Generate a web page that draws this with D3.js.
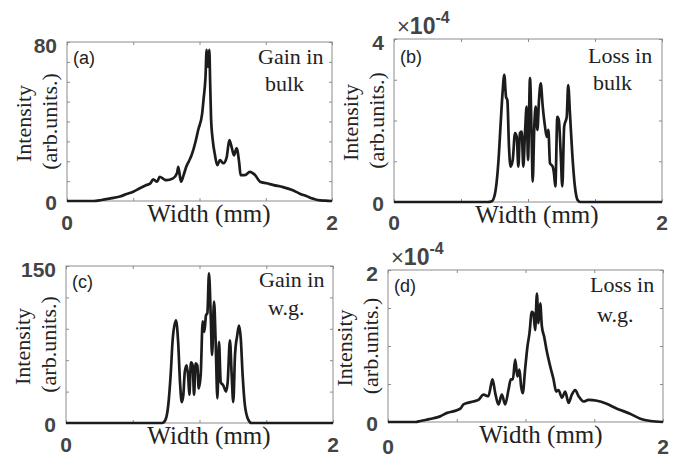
<!DOCTYPE html>
<html><head><meta charset="utf-8">
<script src="https://cdn.jsdelivr.net/npm/d3@7"></script>
<style>
html,body{margin:0;padding:0;background:#fff;}
svg{display:block;}
.tick line{stroke:#8c8c8c;}
</style></head>
<body>
<svg id="chart" width="680" height="459"></svg>
<script>
// ---- data (x in mm, intensity in arb. units; panels b,d in units of 1e-4) ----
const xA = [0,0.1,0.2,0.26,0.32,0.4,0.45,0.5,0.55,0.6,0.63,0.65,0.68,0.70,0.73,0.75,0.80,0.83,0.84,0.86,0.88,0.90,0.92,0.94,0.97,0.99,1.02,1.03,1.045,1.054,1.064,1.074,1.08,1.087,1.10,1.117,1.134,1.155,1.18,1.205,1.225,1.243,1.26,1.28,1.30,1.31,1.343,1.38,1.42,1.457,1.507,1.56,1.63,1.70,1.757,1.81,1.857,1.91,1.95,2.0];
const yA = [0,0,0,0.5,1.2,2.3,3.5,4.7,6.4,8,8.9,10.9,9.7,12.2,11,10.5,11.4,14,17.2,9.7,13,17.2,20,23,29.8,35.7,44,50.8,62,76,67.5,76,60.8,42,30.6,23,18,20.6,19,22,30.6,27,23,26.5,19,13,13,14.7,13,9.7,8.9,8,7,5.5,3.7,2.4,1.2,0.3,0.2,0];

const xB = [0,0.70,0.73,0.754,0.78,0.796,0.81,0.823,0.836,0.846,0.858,0.87,0.886,0.903,0.916,0.928,0.94,0.953,0.965,0.978,0.99,1.0,1.015,1.028,1.035,1.047,1.057,1.07,1.082,1.095,1.11,1.127,1.14,1.152,1.164,1.184,1.194,1.204,1.219,1.23,1.244,1.256,1.27,1.289,1.30,1.313,1.33,1.35,1.37,1.39,2.0];
const yB = [0,0,0.02,0.21,1.03,1.93,2.67,3.12,2.58,2.5,1.36,0.87,1.03,1.69,1.6,0.87,1.69,1.73,0.87,1.73,2.34,1.03,3.04,1.44,0.5,1.85,2.34,1.77,2.5,2.91,2.34,1.85,1.6,1.77,0.95,0.87,0.7,0.38,2.09,2.01,1.2,0.38,1.85,2.09,2.87,2.18,1.2,0.38,0.05,0,0];

const xC = [0,0.72,0.745,0.766,0.784,0.80,0.824,0.84,0.854,0.867,0.879,0.89,0.904,0.916,0.924,0.936,0.949,0.959,0.971,0.984,0.994,1.009,1.024,1.036,1.049,1.059,1.071,1.084,1.094,1.109,1.121,1.134,1.146,1.159,1.178,1.199,1.211,1.228,1.241,1.253,1.266,1.283,1.296,1.309,1.323,1.34,1.366,1.39,2.0];
const yC = [0,0,3,17,46,81,98,77.5,39,20,27,49,55,43,27,58,55,27,57,55,33,46,97,87,103,105,143,103,65,116,77.5,23.5,77.5,39,36,30,39,79,46,20,65,84,93,81,46,17,3,0,0];

const xD = [0,0.2,0.235,0.28,0.33,0.379,0.43,0.475,0.526,0.548,0.575,0.62,0.657,0.694,0.73,0.76,0.78,0.803,0.828,0.852,0.876,0.893,0.908,0.925,0.941,0.956,0.968,0.98,0.997,1.014,1.029,1.046,1.058,1.07,1.083,1.094,1.107,1.119,1.136,1.155,1.18,1.204,1.223,1.24,1.265,1.289,1.313,1.337,1.361,1.386,1.422,1.458,1.52,1.59,1.665,1.76,1.835,1.91,2.0];
const yD = [0,0,0.013,0.03,0.05,0.074,0.12,0.14,0.175,0.23,0.25,0.27,0.29,0.36,0.34,0.56,0.38,0.23,0.36,0.23,0.42,0.56,0.56,0.82,0.60,0.69,0.47,0.38,0.69,0.99,1.17,1.45,1.43,1.21,1.69,1.30,1.56,1.26,1.12,0.93,0.73,0.56,0.40,0.42,0.32,0.40,0.25,0.36,0.42,0.34,0.27,0.29,0.28,0.24,0.175,0.11,0.044,0.013,0];

const panelTags = ["(a)","(b)","(c)","(d)"];
const panelNotes = [["Gain in","bulk"],["Loss in","bulk"],["Gain in","w.g."],["Loss in","w.g."]];
const yMaxes = [80,4,150,2];
const yTickSteps = [10,1,30,0.5];
const yMaxLabels = ["80","4","150","2"];
const xTickVals = [0,0.5,1,1.5,2];
const xTickLabels = ["0","2"];
const hasExponent = [false,true,false,true];
const xTitle = "Width (mm)";
const yTitle = ["Intensity","(arb.units.)"];

// ---- layout ----
const layout = [
  {l:67, r:332, t:42, b:201, xl:209, xt:222, note1:258, note2:265, nb1:64, nb2:91, tagY:58},
  {l:394, r:662, t:39, b:202, xl:537, xt:222, note1:588, note2:593, nb1:63, nb2:90, tagY:57},
  {l:66, r:333, t:266, b:423, xl:209, xt:444, note1:259, note2:268, nb1:287, nb2:315, tagY:282},
  {l:388, r:663, t:270, b:422, xl:541, xt:446, note1:590, note2:597, nb1:292, nb2:322, tagY:286}
];
const series = [[xA,yA],[xB,yB],[xC,yC],[xD,yD]];

const svg = d3.select("#chart");
const serif = "'Liberation Serif','Times New Roman',serif";
const sans = "'Liberation Sans',Arial,sans-serif";

layout.forEach((L,i)=>{
  const g = svg.append("g");
  const x = d3.scaleLinear().domain([0,2]).range([L.l,L.r]);
  const y = d3.scaleLinear().domain([0,yMaxes[i]]).range([L.b,L.t]);
  const yt = d3.range(0, yMaxes[i]+1e-9, yTickSteps[i]);

  const ax = (a)=>a.tickSize(-3).tickSizeOuter(0).tickFormat("");
  g.append("g").attr("transform",`translate(0,${L.b})`).call(ax(d3.axisBottom(x).tickValues(xTickVals)));
  g.append("g").attr("transform",`translate(0,${L.t})`).call(ax(d3.axisTop(x).tickValues(xTickVals)));
  g.append("g").attr("transform",`translate(${L.l},0)`).call(ax(d3.axisLeft(y).tickValues(yt)));
  g.append("g").attr("transform",`translate(${L.r},0)`).call(ax(d3.axisRight(y).tickValues(yt)));
  g.selectAll(".domain").remove();
  g.append("rect").attr("x",L.l).attr("y",L.t).attr("width",L.r-L.l).attr("height",L.b-L.t)
    .attr("fill","none").attr("stroke","#8c8c8c").attr("stroke-width",1);

  // data curve
  const pts = series[i][0].map((v,k)=>[v, series[i][1][k]]);
  const line = d3.line().x(d=>x(d[0])).y(d=>y(d[1])).curve(d3.curveMonotoneX);
  g.append("path").datum(pts).attr("d",line).attr("fill","none")
    .attr("stroke","#1c1c1c").attr("stroke-width",2.7).attr("stroke-linejoin","round");

  // tick labels
  const tl = g.append("g").attr("font-family",sans).attr("font-weight","bold")
    .attr("font-size",21).attr("fill","#444");
  tl.append("text").attr("x",L.l-10).attr("y",y(yMaxes[i])+3).attr("text-anchor","end")
    .attr("dominant-baseline","central").text(yMaxLabels[i]);
  tl.append("text").attr("x",L.l-10).attr("y",y(0)+1).attr("text-anchor","end")
    .attr("dominant-baseline","central").text("0");
  tl.append("text").attr("x",x(0)).attr("y",L.xt).attr("text-anchor","middle")
    .attr("dominant-baseline","central").text(xTickLabels[0]);
  tl.append("text").attr("x",x(2)).attr("y",L.xt).attr("text-anchor","middle")
    .attr("dominant-baseline","central").text(xTickLabels[1]);

  if(hasExponent[i]){
    const e = g.append("text").attr("x",L.l+3).attr("y",L.t-5).attr("font-family",sans).attr("fill","#444");
    e.append("tspan").attr("font-size",22).text("\u00d7");
    e.append("tspan").attr("font-size",23).attr("font-weight","bold").text("10");
    e.append("tspan").attr("font-size",16).attr("font-weight","bold").attr("dy",-11).text("-4");
  }

  // axis titles
  g.append("text").attr("x",L.xl).attr("y",L.b+21).attr("text-anchor","middle")
    .attr("font-family",serif).attr("font-size",25).attr("fill","#222").text(xTitle);
  const cy = (L.t+L.b)/2 + 2;
  g.append("text").attr("transform",`translate(${L.l-36},${cy}) rotate(-90)`).attr("text-anchor","middle")
    .attr("font-family",serif).attr("font-size",22).attr("fill","#222").text(yTitle[0]);
  g.append("text").attr("transform",`translate(${L.l-10},${cy-2}) rotate(-90)`).attr("text-anchor","middle")
    .attr("font-family",serif).attr("font-size",22).attr("fill","#222").text(yTitle[1]);

  // annotations
  g.append("text").attr("x",L.l+6).attr("y",L.tagY).attr("dominant-baseline","central")
    .attr("font-family",sans).attr("font-size",18).attr("fill","#222").text(panelTags[i]);
  g.append("text").attr("x",L.note1).attr("y",L.nb1).attr("font-family",serif)
    .attr("font-size",22).attr("fill","#222").text(panelNotes[i][0]);
  g.append("text").attr("x",L.note2).attr("y",L.nb2).attr("font-family",serif)
    .attr("font-size",22).attr("fill","#222").text(panelNotes[i][1]);
});
</script>
</body></html>
